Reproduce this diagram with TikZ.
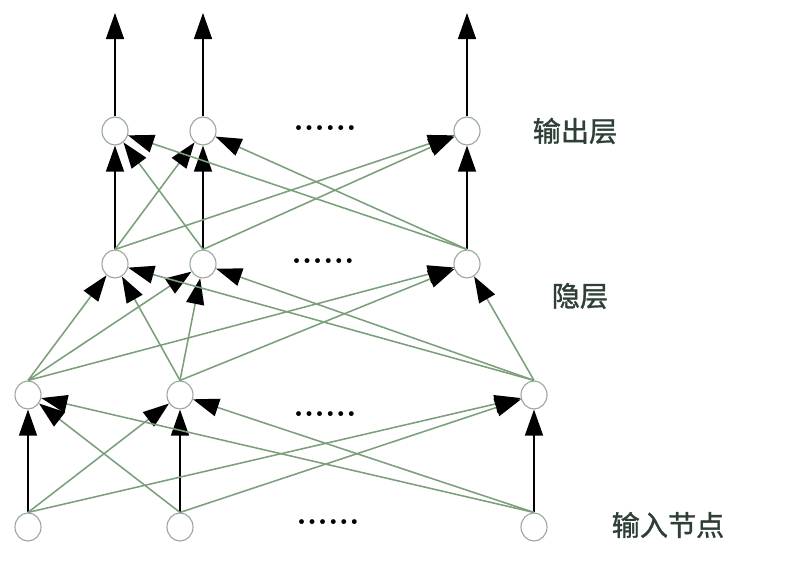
\documentclass[tikz,border=0pt]{standalone}
\usepackage{fontspec}
\newfontfamily\cjkfont[FakeBold=1.2]{Noto Sans CJK SC}
\usetikzlibrary{arrows.meta,shapes.geometric}
\definecolor{nngreen}{HTML}{7A9F7A}
\definecolor{nnring}{HTML}{9AAA9A}
\definecolor{nntext}{HTML}{2E4036}

\begin{document}
\begin{tikzpicture}[x=0.025cm, y=-0.025cm,
    neuron/.style={draw=nnring, fill=white, ellipse, line width=0.8pt, inner sep=0pt, minimum width=0.65cm, minimum height=0.7cm},
    dots/.style={font=\fontsize{24}{26}\selectfont\bfseries, inner sep=0pt},
    layername/.style={text=nntext, font=\cjkfont\fontsize{20}{24}\selectfont, inner sep=0pt},
    tip/.style={-{Triangle[length=0.65cm, width=0.45cm, color=black]}},
    link/.style={tip, draw=nngreen, line width=1.1pt},
    direct/.style={tip, draw=black, line width=1pt}
  ]
    \useasboundingbox (0,0) rectangle (811,576);

    % input nodes
    \node[neuron] (in1) at (28,527) {};
    \node[neuron] (in2) at (180,527) {};
    \node[neuron] (in3) at (534,527) {};
    % first layer
    \node[neuron] (fa1) at (28,395) {};
    \node[neuron] (fa2) at (180,395) {};
    \node[neuron] (fa3) at (534,395) {};
    % hidden layer
    \node[neuron] (hid1) at (115,264) {};
    \node[neuron] (hid2) at (203,264) {};
    \node[neuron] (hid3) at (467,264) {};
    % output layer
    \node[neuron] (out1) at (115,131) {};
    \node[neuron] (out2) at (203,131) {};
    \node[neuron] (out3) at (467,131) {};

    \coordinate (top1) at (115,13);
    \coordinate (top2) at (203,13);
    \coordinate (top3) at (467,13);

    \node[dots] (dotsout) at (325,128) {......};
    \node[dots] (dotshid) at (323,261) {......};
    \node[dots] (dotsfa) at (325,414) {......};
    \node[dots] (dotsin) at (328,522) {......};

    \node[layername] (outname) at (575,131) {输出层};
    \node[layername] (hidname) at (580,296) {隐层};
    \node[layername] (inname) at (668,525) {输入节点};

    % input -> first layer
    \draw[direct] (in1.north) -- (fa1);
    \draw[direct] (in2.north) -- (fa2);
    \draw[direct] (in3.north) -- (fa3);
    \draw[link] (in1.north) -- (fa2);
    \draw[link] (in1.north) -- (fa3);
    \draw[link] (in2.north) -- (fa1);
    \draw[link] (in2.north) -- (fa3);
    \draw[link] (in3.north) -- (fa1);
    \draw[link] (in3.north) -- (fa2);

    % first layer -> hidden
    \draw[link] (fa1.north) -- (hid1);
    \draw[link] (fa1.north) -- (hid2);
    \draw[link] (fa1.north) -- (hid3);
    \draw[link] (fa2.north) -- (hid1);
    \draw[link] (fa2.north) -- (hid2);
    \draw[link] (fa2.north) -- (hid3);
    \draw[link] (fa3.north) -- (hid1);
    \draw[link] (fa3.north) -- (hid2);
    \draw[link] (fa3.north) -- (hid3);

    % hidden -> output
    \draw[direct] (hid1.north) -- (out1);
    \draw[direct] (hid2.north) -- (out2);
    \draw[direct] (hid3.north) -- (out3);
    \draw[link] (hid1.north) -- (out2);
    \draw[link] (hid1.north) -- (out3);
    \draw[link] (hid2.north) -- (out1);
    \draw[link] (hid2.north) -- (out3);
    \draw[link] (hid3.north) -- (out1);
    \draw[link] (hid3.north) -- (out2);

    % output arrows
    \draw[direct] (out1.north) -- (top1);
    \draw[direct] (out2.north) -- (top2);
    \draw[direct] (out3.north) -- (top3);
  \end{tikzpicture}
\end{document}
